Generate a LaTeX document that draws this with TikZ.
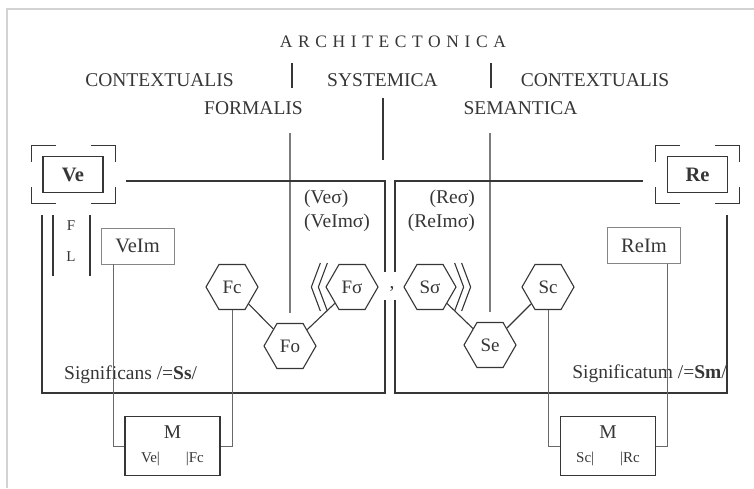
\documentclass[tikz,border=0pt]{standalone}
\usepackage{fontspec}
\setmainfont{Liberation Serif}
\newfontfamily\spacedfont[LetterSpace=32]{Liberation Serif}
\usepackage{tikz}
\usetikzlibrary{shapes.geometric}

\definecolor{ink}{HTML}{363636}
\definecolor{rim}{HTML}{D2D2D2}

\newcommand\cornermarks[1]{%
  \draw[field line] ([xshift=24pt]#1.north west) -| ([yshift=-17pt]#1.north west);
  \draw[field line] ([xshift=-24pt]#1.north east) -| ([yshift=-17pt]#1.north east);
  \draw[field line] ([xshift=24pt]#1.south west) -| ([yshift=17pt]#1.south west);
  \draw[field line] ([xshift=-24pt]#1.south east) -| ([yshift=17pt]#1.south east);}

\begin{document}
\begin{tikzpicture}[x=1pt,y=-1pt,
    every node/.style={text=ink,inner sep=0pt,font=\fontsize{19.5}{21}\selectfont},
    head node/.style={font=\fontsize{19.5}{21}\selectfont},
    hex node/.style={regular polygon,regular polygon sides=6,draw=ink,line width=1.1pt,minimum size=52pt,font=\fontsize{19}{21}\selectfont},
    main box/.style={draw=ink,line width=1.1pt,minimum width=60pt,minimum height=36pt,font=\fontsize{20.5}{22}\selectfont\bfseries},
    im box/.style={draw=ink!60,line width=0.7pt,minimum width=73pt,minimum height=36pt,font=\fontsize{20.5}{22}\selectfont},
    m box/.style={draw=ink,line width=1.1pt,minimum width=95pt,minimum height=59pt,align=center},
    field line/.style={draw=ink,line width=1.2pt},
    wire/.style={draw=ink!75,line width=0.7pt},
    link/.style={draw=ink,line width=1.1pt}]
    \useasboundingbox (0,0) rectangle (754,488);
    \draw[rim,line width=2pt] (7,488) -- (7,9) -- (754,9);

    \node (arch) at (393,42) {\fontsize{17.5}{19}\spacedfont ARCHITECTONICA};
    \node[head node] (ctxl) at (159.5,80) {CONTEXTUALIS};
    \node[head node] (sys) at (382.5,80) {SYSTEMICA};
    \node[head node] (ctxr) at (595,80) {CONTEXTUALIS};
    \node[head node] (form) at (253.5,108) {FORMALIS};
    \node[head node] (sem) at (520.5,108) {SEMANTICA};
    \draw[field line] (292,63) -- (292,88);
    \draw[field line] (491,63) -- (491,88);
    \draw[field line] (383,98) -- (383,160);

    \node[main box] (Ve) at (73,174.5) {Ve};
    \node[minimum width=83pt,minimum height=58pt] (VeFrame) at (73.5,174.5) {};
    \cornermarks{VeFrame}
    \node[main box] (Re) at (697.5,174.5) {Re};
    \node[minimum width=83pt,minimum height=58pt] (ReFrame) at (697.5,174.5) {};
    \cornermarks{ReFrame}

    \draw[field line] (126,181) -- (385,181) -- (385,272);
    \draw[field line] (385,300) -- (385,393) -- (42,393) -- (42,215);
    \draw[field line] (53,215) -- (53,276);
    \draw[field line] (90,215) -- (90,276);
    \draw[field line] (643,181) -- (395,181) -- (395,272);
    \draw[field line] (395,300) -- (395,393) -- (727,393) -- (727,215);
    \node (comma) at (392,289) {,};

    \node[font=\fontsize{15}{17}\selectfont] (F) at (71,226) {F};
    \node[font=\fontsize{15}{17}\selectfont] (L) at (71,257) {L};
    \node[im box] (VeIm) at (137.5,246) {VeIm};
    \node[im box] (ReIm) at (644,245.5) {ReIm};

    \node[anchor=west] (Vesig) at (304,199) {(Veσ)};
    \node[anchor=west] (VeImsig) at (304,223) {(VeImσ)};
    \node[anchor=east] (Resig) at (475,199) {(Reσ)};
    \node[anchor=east] (ReImsig) at (475,223) {(ReImσ)};

    \node[hex node] (Fc) at (232,287) {Fc};
    \node[hex node] (Fo) at (290,346) {Fo};
    \node[hex node] (Fs) at (352,287) {Fσ};
    \node[hex node] (Ss) at (430,287) {Sσ};
    \node[hex node] (Se) at (490,345) {Se};
    \node[hex node] (Sc) at (548,287) {Sc};

    \draw[link] (Fc) -- (Fo);
    \draw[link] (Fo) -- (Fs);
    \draw[link] (Ss) -- (Se);
    \draw[link] (Se) -- (Sc);
    \draw[field line] (290,133) -- ([yshift=10pt]Fo.north);
    \draw[field line] (490,133) -- ([yshift=10pt]Se.north);

    \draw[link] ([shift={(-5pt,24pt)}]Fs.west) -- ([xshift=-14pt]Fs.west) -- ([shift={(-5pt,-24pt)}]Fs.west);
    \draw[link] ([shift={(2pt,24pt)}]Fs.west) -- ([xshift=-7pt]Fs.west) -- ([shift={(2pt,-24pt)}]Fs.west);
    \draw[link] ([shift={(5pt,24pt)}]Ss.east) -- ([xshift=14pt]Ss.east) -- ([shift={(5pt,-24pt)}]Ss.east);
    \draw[link] ([shift={(-2pt,24pt)}]Ss.east) -- ([xshift=7pt]Ss.east) -- ([shift={(-2pt,-24pt)}]Ss.east);

    \node[anchor=west] (Ssig) at (64,375) {Significans /=\textbf{Ss}/};
    \node[anchor=east] (Smig) at (727,374) {Significatum /=\textbf{Sm}/};

    \node[m box] (ML) at (172.5,446) {M\\[3pt]{\fontsize{15}{17}\selectfont Ve|\hspace{26pt}|Fc}};
    \node[m box] (MR) at (608,446) {M\\[3pt]{\fontsize{15}{17}\selectfont Sc|\hspace{26pt}|Rc}};

    \draw[wire] ([xshift=-24.5pt]VeIm.south) |- (ML.west);
    \draw[wire] (Fc.south) |- (ML.east);
    \draw[wire] (Sc.south) |- (MR.west);
    \draw[wire] ([xshift=23pt]ReIm.south) |- (MR.east);
\end{tikzpicture}
\end{document}
